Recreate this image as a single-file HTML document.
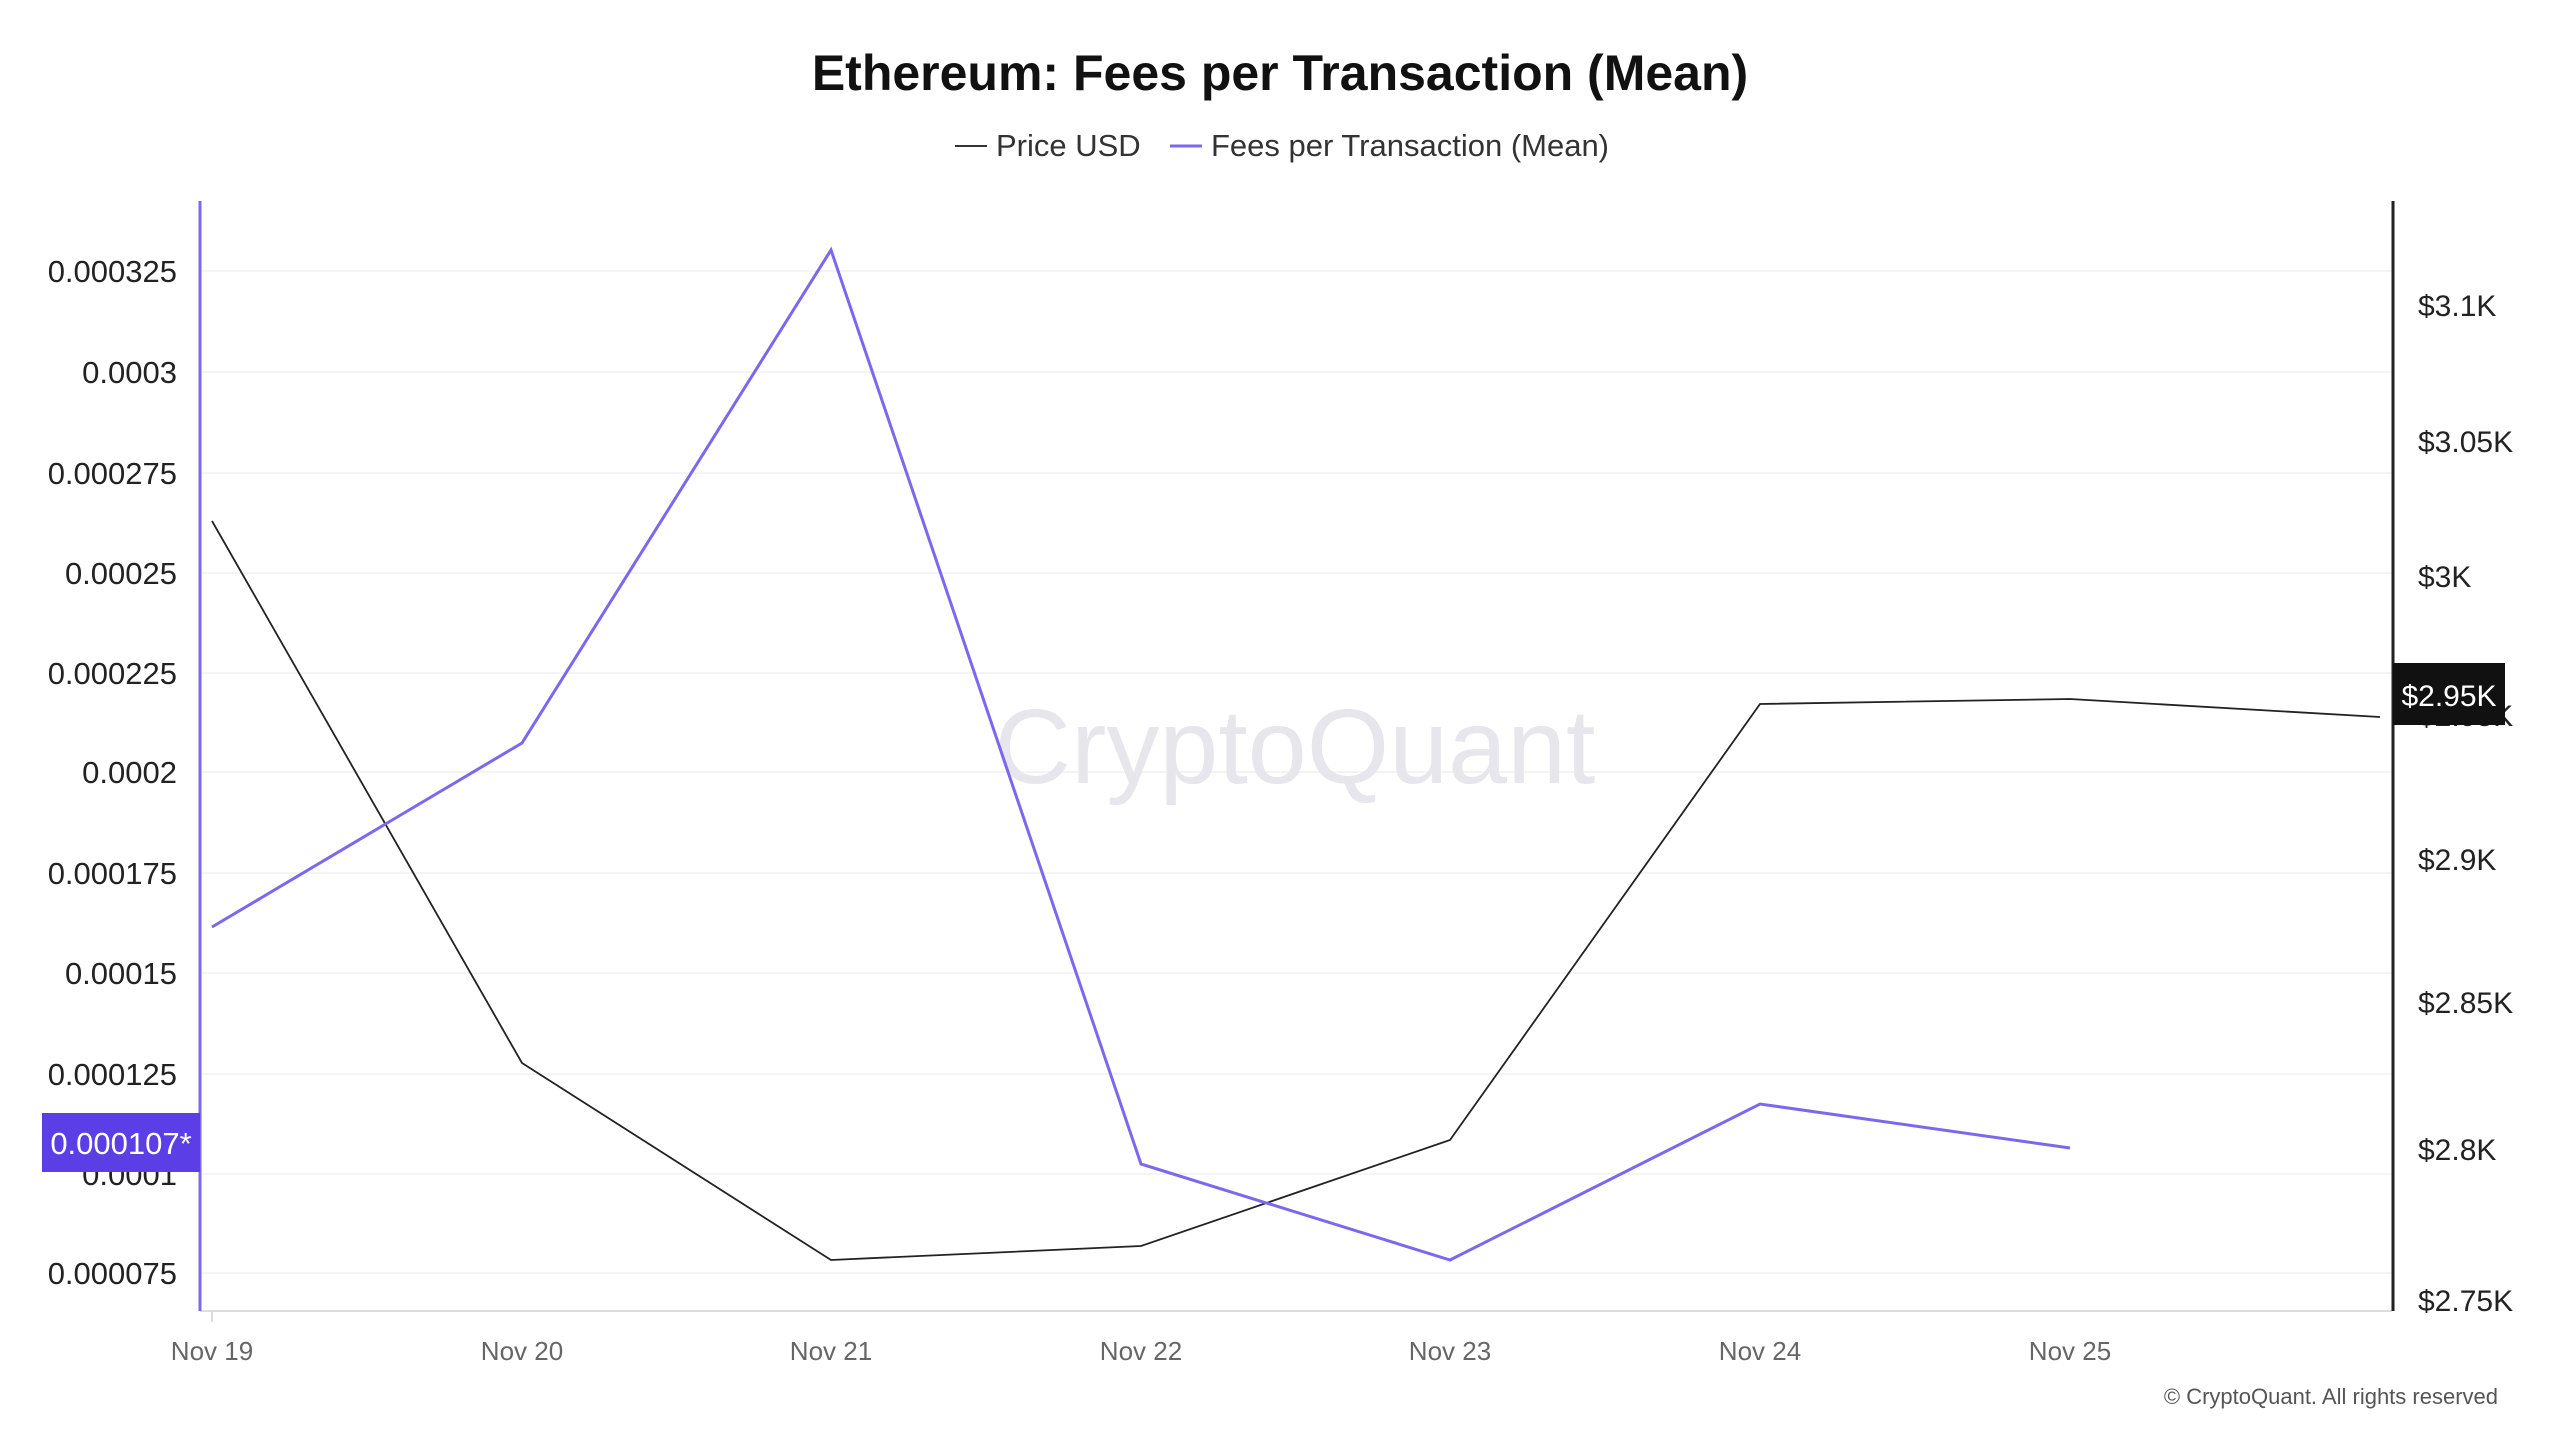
<!DOCTYPE html>
<html><head><meta charset="utf-8"><style>
body{margin:0;background:#fff;}
svg{display:block;font-family:"Liberation Sans",sans-serif;}
</style></head><body>
<svg width="2560" height="1440" viewBox="0 0 2560 1440" xmlns="http://www.w3.org/2000/svg">
<rect width="2560" height="1440" fill="#fff"/>
<text x="1280" y="90" text-anchor="middle" font-size="50" font-weight="bold" fill="#111">Ethereum: Fees per Transaction (Mean)</text>
<line x1="955" y1="146" x2="987" y2="146" stroke="#333" stroke-width="2"/>
<text x="996" y="156" font-size="31" fill="#333">Price USD</text>
<line x1="1170" y1="146" x2="1202" y2="146" stroke="#7b68ee" stroke-width="3"/>
<text x="1211" y="156" font-size="31" fill="#333">Fees per Transaction (Mean)</text>
<g stroke="#f0f0f0" stroke-width="1.5">
<line x1="200" y1="271" x2="2392" y2="271"/><line x1="200" y1="372" x2="2392" y2="372"/>
<line x1="200" y1="473" x2="2392" y2="473"/><line x1="200" y1="573" x2="2392" y2="573"/>
<line x1="200" y1="673" x2="2392" y2="673"/><line x1="200" y1="772" x2="2392" y2="772"/>
<line x1="200" y1="873" x2="2392" y2="873"/><line x1="200" y1="973" x2="2392" y2="973"/>
<line x1="200" y1="1074" x2="2392" y2="1074"/><line x1="200" y1="1174" x2="2392" y2="1174"/>
<line x1="200" y1="1273" x2="2392" y2="1273"/>
</g>
<line x1="200" y1="1311" x2="2392" y2="1311" stroke="#ddd" stroke-width="2"/>
<line x1="200" y1="201" x2="200" y2="1311" stroke="#7b68ee" stroke-width="3"/>
<line x1="2393" y1="201" x2="2393" y2="1311" stroke="#222" stroke-width="3"/>
<text x="1295" y="783" text-anchor="middle" font-size="106" fill="#e6e6ec">CryptoQuant</text>
<g font-size="31" fill="#222" text-anchor="end">
<text x="177" y="282">0.000325</text><text x="177" y="383">0.0003</text>
<text x="177" y="484">0.000275</text><text x="177" y="584">0.00025</text>
<text x="177" y="684">0.000225</text><text x="177" y="783">0.0002</text>
<text x="177" y="884">0.000175</text><text x="177" y="984">0.00015</text>
<text x="177" y="1085">0.000125</text><text x="177" y="1185">0.0001</text>
<text x="177" y="1284">0.000075</text>
</g>
<g font-size="30" fill="#222">
<text x="2418" y="316">$3.1K</text><text x="2418" y="452">$3.05K</text>
<text x="2418" y="587">$3K</text><text x="2418" y="726">$2.95K</text>
<text x="2418" y="870">$2.9K</text><text x="2418" y="1013">$2.85K</text>
<text x="2418" y="1160">$2.8K</text><text x="2418" y="1311">$2.75K</text>
</g>
<g font-size="26" fill="#666" text-anchor="middle">
<text x="212" y="1360">Nov 19</text><text x="522" y="1360">Nov 20</text>
<text x="831" y="1360">Nov 21</text><text x="1141" y="1360">Nov 22</text>
<text x="1450" y="1360">Nov 23</text><text x="1760" y="1360">Nov 24</text>
<text x="2070" y="1360">Nov 25</text>
</g>
<line x1="212" y1="1311" x2="212" y2="1322" stroke="#ddd" stroke-width="2"/>
<polyline fill="none" stroke="#222" stroke-width="1.8" points="212,521 522,1063 831,1260 1141,1246 1450,1140 1760,704 2070,699 2380,717"/>
<polyline fill="none" stroke="#7b68ee" stroke-width="3" points="212,927 522,743 831,250 1141,1164 1450,1260 1760,1104 2070,1148"/>
<rect x="42" y="1113" width="158" height="59" fill="#5b3ee6"/>
<text x="121" y="1154" text-anchor="middle" font-size="31" fill="#fff">0.000107*</text>
<rect x="2393" y="663" width="112" height="62" fill="#111"/>
<text x="2449" y="706" text-anchor="middle" font-size="30" fill="#fff">$2.95K</text>
<text x="2498" y="1404" text-anchor="end" font-size="22" fill="#555">© CryptoQuant. All rights reserved</text>
</svg>
</body></html>
